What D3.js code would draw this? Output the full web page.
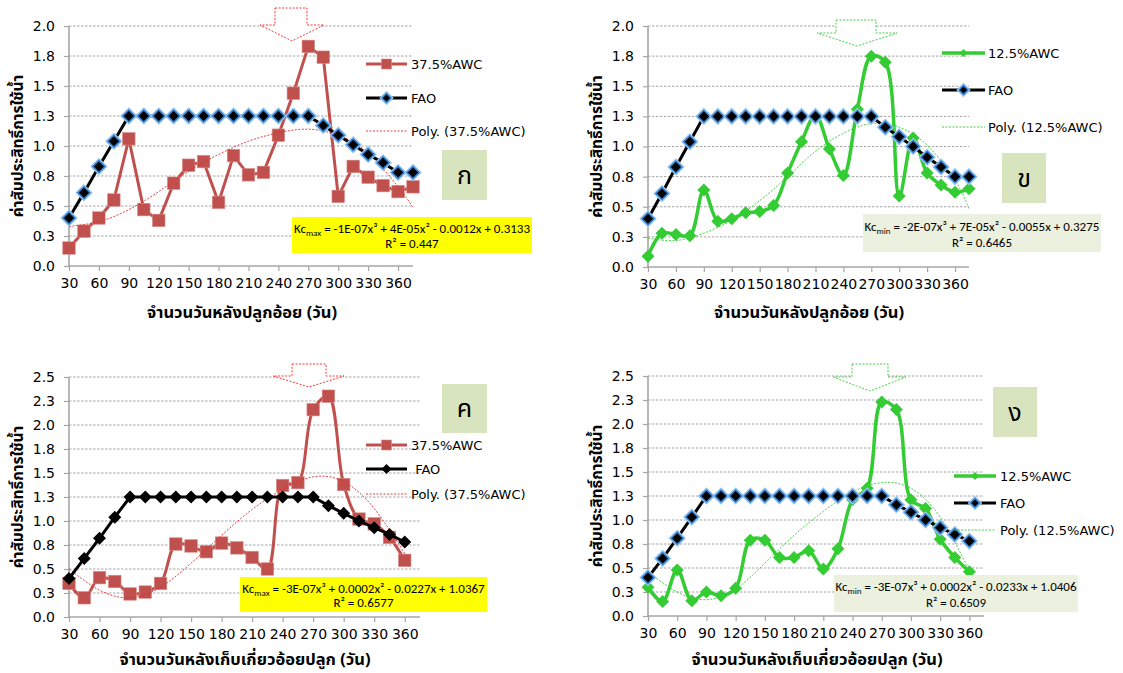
<!DOCTYPE html>
<html>
<head>
<meta charset="utf-8">
<script src="https://cdn.jsdelivr.net/npm/d3@7/dist/d3.min.js"></script>
<style>
body { margin: 0; background: #fff; }
svg { display: block; }
text { font-family: "DejaVu Sans", Tahoma, sans-serif; fill: #000; }
.thai { font-family: Tahoma, "Noto Sans Thai", "Noto Sans", sans-serif; }
.eq { font-family: Carlito, Lato, sans-serif; }
</style>
</head>
<body>
<script>
// days after planting / after harvest (x categories)
var days = [30, 45, 60, 75, 90, 105, 120, 135, 150, 165, 180, 195, 210, 225, 240, 255, 270, 285, 300, 315, 330, 345, 360, 375];
var xTickValues = [30, 60, 90, 120, 150, 180, 210, 240, 270, 300, 330, 360];
var yTicksTop = [0, 0.25, 0.5, 0.75, 1.0, 1.25, 1.5, 1.75, 2.0];
var yTicksBottom = [0, 0.25, 0.5, 0.75, 1.0, 1.25, 1.5, 1.75, 2.0, 2.25, 2.5];

// FAO reference Kc
var faoA = [0.40, 0.61, 0.83, 1.04, 1.25, 1.25, 1.25, 1.25, 1.25, 1.25, 1.25, 1.25, 1.25, 1.25, 1.25, 1.25, 1.25, 1.17, 1.09, 1.01, 0.93, 0.86, 0.78, 0.78];
var faoB = [0.40, 0.61, 0.83, 1.04, 1.25, 1.25, 1.25, 1.25, 1.25, 1.25, 1.25, 1.25, 1.25, 1.25, 1.25, 1.25, 1.25, 1.16, 1.08, 1.00, 0.91, 0.83, 0.75, 0.75];
var faoC = [0.40, 0.61, 0.82, 1.04, 1.25, 1.25, 1.25, 1.25, 1.25, 1.25, 1.25, 1.25, 1.25, 1.25, 1.25, 1.25, 1.25, 1.16, 1.08, 1.00, 0.93, 0.86, 0.78];
var faoD = [0.40, 0.60, 0.81, 1.03, 1.25, 1.25, 1.25, 1.25, 1.25, 1.25, 1.25, 1.25, 1.25, 1.25, 1.25, 1.25, 1.25, 1.16, 1.08, 1.00, 0.92, 0.85, 0.78];

// measured Kc
var awc375Plant = [0.15, 0.29, 0.40, 0.55, 1.06, 0.47, 0.38, 0.69, 0.84, 0.87, 0.53, 0.92, 0.76, 0.78, 1.09, 1.44, 1.83, 1.74, 0.58, 0.83, 0.74, 0.67, 0.62, 0.66];
var awc125Plant = [0.09, 0.28, 0.27, 0.26, 0.64, 0.38, 0.40, 0.45, 0.46, 0.51, 0.78, 1.04, 1.26, 0.98, 0.76, 1.31, 1.75, 1.70, 0.59, 1.07, 0.78, 0.68, 0.62, 0.65];
var awc375Ratoon = [0.35, 0.20, 0.41, 0.37, 0.24, 0.26, 0.35, 0.76, 0.74, 0.68, 0.77, 0.72, 0.62, 0.50, 1.37, 1.40, 2.16, 2.30, 1.38, 1.02, 0.97, 0.83, 0.59];
var awc125Ratoon = [0.30, 0.15, 0.48, 0.16, 0.25, 0.21, 0.29, 0.79, 0.79, 0.61, 0.61, 0.68, 0.49, 0.70, 1.21, 1.33, 2.23, 2.15, 1.21, 1.12, 0.80, 0.61, 0.46];

// polynomial trend
var trendDays = [30, 60, 90, 120, 150, 180, 210, 240, 270, 300, 330, 360, 375];
var trendDaysR = [30, 60, 90, 120, 150, 180, 210, 240, 270, 300, 330, 360];
var trendA = [0.33, 0.37, 0.47, 0.62, 0.79, 0.93, 1.04, 1.11, 1.14, 1.09, 0.94, 0.66, 0.49];
var trendB = [0.24, 0.22, 0.28, 0.39, 0.55, 0.75, 0.96, 1.11, 1.19, 1.16, 1.01, 0.72, 0.48];
var trendC = [0.50, 0.28, 0.20, 0.31, 0.56, 0.85, 1.12, 1.33, 1.46, 1.41, 1.13, 0.66];
var trendD = [0.46, 0.25, 0.17, 0.28, 0.55, 0.84, 1.09, 1.29, 1.39, 1.33, 1.03, 0.47];

var xTitlePlant = "จำนวนวันหลังปลูกอ้อย (วัน)";
var xTitleRatoon = "จำนวนวันหลังเก็บเกี่ยวอ้อยปลูก (วัน)";
var yTitle = "ค่าสัมประสิทธิ์การใช้น้ำ";

var RED = "#c0504d", GREEN = "#33cc33";

var svg = d3.select("body").append("svg")
  .attr("width", 1123)
  .attr("height", 673);

var panels = [
  { x0: 69, x1: 413, yTop: 26, yBot: 266, yMax: 2.0, yTicks: yTicksTop,
    series: awc375Plant, fao: faoA, trendX: trendDays, trend: trendA, color: RED, marker: "square", smooth: false,
    name: "37.5%AWC", poly: "Poly. (37.5%AWC)", faoName: "FAO", glow: true, xTitle: xTitlePlant, xTitleX: 242, xTitleY: 312,
    leg: { x1: 366, x2: 407, tx: 411, ys: [64, 98, 131] },
    box: { x: 442, y: 150, w: 45, h: 50, label: "ก" },
    eq: { x: 292, y: 217, w: 240, h: 36, fill: "#ffff00", pre: "-1E-07x³ + 4E-05x² - 0.0012x + 0.3133", sub: "max", r2: "0.447" },
    arrow: { rl: 275, rr: 307, top: 8, hl: 260, hr: 324, hy: 25, tx: 292, ty: 41 } },
  { x0: 648, x1: 969, yTop: 26, yBot: 267, yMax: 2.0, yTicks: yTicksTop,
    series: awc125Plant, fao: faoB, trendX: trendDays, trend: trendB, color: GREEN, marker: "diamond", smooth: true,
    name: "12.5%AWC", poly: "Poly. (12.5%AWC)", faoName: "FAO", glow: true, xTitle: xTitlePlant, xTitleX: 809, xTitleY: 312,
    leg: { x1: 942, x2: 985, tx: 988, ys: [53, 90, 127] },
    box: { x: 1002, y: 153, w: 44, h: 50, label: "ข" },
    eq: { x: 863, y: 214, w: 238, h: 38, fill: "#ebf1de", pre: "-2E-07x³ + 7E-05x² - 0.0055x + 0.3275", sub: "min", r2: "0.6465" },
    arrow: { rl: 836, rr: 876, top: 20, hl: 817, hr: 897, hy: 33, tx: 857, ty: 46 } },
  { x0: 69, x1: 420, yTop: 377, yBot: 617, yMax: 2.5, yTicks: yTicksBottom,
    series: awc375Ratoon, fao: faoC, trendX: trendDaysR, trend: trendC, color: RED, marker: "square", smooth: true,
    name: "37.5%AWC", poly: "Poly. (37.5%AWC)", faoName: " FAO", glow: false, xTitle: xTitleRatoon, xTitleX: 245, xTitleY: 659,
    leg: { x1: 366, x2: 407, tx: 411, ys: [445, 469, 494] },
    box: { x: 442, y: 384, w: 45, h: 49, label: "ค" },
    eq: { x: 240, y: 577, w: 247, h: 35, fill: "#ffff00", pre: "-3E-07x³ + 0.0002x² - 0.0227x + 1.0367", sub: "max", r2: "0.6577" },
    arrow: { rl: 292, rr: 326, top: 364, hl: 273, hr: 344, hy: 376, tx: 309, ty: 387 } },
  { x0: 648, x1: 984, yTop: 376, yBot: 616, yMax: 2.5, yTicks: yTicksBottom,
    series: awc125Ratoon, fao: faoD, trendX: trendDaysR, trend: trendD, color: GREEN, marker: "diamond", smooth: true,
    name: "12.5%AWC", poly: "Poly. (12.5%AWC)", faoName: "FAO", glow: true, xTitle: xTitleRatoon, xTitleX: 817, xTitleY: 659,
    leg: { x1: 954, x2: 996, tx: 1000, ys: [476, 503, 530] },
    box: { x: 993, y: 387, w: 44, h: 50, label: "ง" },
    eq: { x: 834, y: 575, w: 244, h: 37, fill: "#ebf1de", pre: "-3E-07x³ + 0.0002x² - 0.0233x + 1.0406", sub: "min", r2: "0.6509" },
    arrow: { rl: 852, rr: 888, top: 364, hl: 833, hr: 906, hy: 377, tx: 870, ty: 391 } }
];

function diamond(r) {
  return "M0," + (-r) + "L" + r + ",0L0," + r + "L" + (-r) + ",0Z";
}

function drawMarker(g, type, color, cx, cy, small) {
  if (type === "square") {
    var s = small ? 10 : 12.5;
    g.append("rect").attr("x", cx - s / 2).attr("y", cy - s / 2).attr("width", s).attr("height", s)
      .attr("fill", color).attr("stroke", "#d98a88").attr("stroke-width", 0.6);
  } else if (type === "diamond") {
    g.append("path").attr("transform", "translate(" + cx + "," + cy + ")")
      .attr("d", diamond(small ? 4 : 6.5)).attr("fill", color);
  }
}

function drawFaoMarker(g, cx, cy, glow, small) {
  var r = small ? 4.5 : 6;
  if (glow) {
    g.append("path").attr("transform", "translate(" + cx + "," + cy + ")")
      .attr("d", diamond(r + 1)).attr("fill", "none").attr("stroke", "#9cc6ee").attr("stroke-width", 2.5);
    g.append("path").attr("transform", "translate(" + cx + "," + cy + ")")
      .attr("d", diamond(r)).attr("fill", "#000").attr("stroke", "#2f7fd0").attr("stroke-width", 1.4);
  } else {
    g.append("path").attr("transform", "translate(" + cx + "," + cy + ")")
      .attr("d", diamond(r + 0.5)).attr("fill", "#000");
  }
}

panels.forEach(function(p) {
  var g = svg.append("g");
  var x = d3.scaleLinear().domain([30, 375]).range([p.x0, p.x1]);
  var y = d3.scaleLinear().domain([0, p.yMax]).range([p.yBot, p.yTop]);

  // gridlines
  g.selectAll(".grid").data(p.yTicks.slice(1)).enter().append("line")
    .attr("x1", p.x0).attr("x2", p.x1)
    .attr("y1", function(d) { return y(d); }).attr("y2", function(d) { return y(d); })
    .attr("stroke", "#8f8f8f").attr("stroke-width", 0.8).attr("stroke-dasharray", "2.5,1.5");

  // axes
  var yAxis = d3.axisLeft(y).tickValues(p.yTicks).tickSize(5).tickPadding(9)
    .tickFormat(d3.format(".1f"));
  var ya = g.append("g").attr("transform", "translate(" + p.x0 + ",0)").call(yAxis);
  var xAxis = d3.axisBottom(x).tickValues(xTickValues).tickSize(5).tickPadding(7)
    .tickFormat(d3.format("d"));
  var xa = g.append("g").attr("transform", "translate(0," + p.yBot + ")").call(xAxis);
  [ya, xa].forEach(function(a) {
    a.select(".domain").attr("stroke", "#a6a6a6").attr("stroke-width", 1.6);
    a.selectAll(".tick line").attr("stroke", "#a6a6a6").attr("stroke-width", 1.2);
    a.selectAll("text").style("font-size", "14px").style("font-family", "'DejaVu Sans', Tahoma, sans-serif").attr("fill", "#000");
  });
  // remove d3's outer tick cap on the domain
  ya.select(".domain").attr("d", "M0," + p.yBot + "V" + p.yTop);
  xa.select(".domain").attr("d", "M" + p.x0 + ",0H" + p.x1);

  // axis titles
  g.append("text").attr("class", "thai")
    .attr("transform", "translate(" + (p.x0 - 51) + "," + ((p.yTop + p.yBot) / 2) + ") rotate(-90)")
    .attr("text-anchor", "middle").attr("dy", "0.35em")
    .style("font-size", "15.5px").style("font-weight", "bold").text(yTitle);
  g.append("text").attr("class", "thai")
    .attr("x", p.xTitleX).attr("y", p.xTitleY).attr("dy", "0.35em")
    .attr("text-anchor", "middle")
    .style("font-size", "16.5px").style("font-weight", "bold").text(p.xTitle);

  var pts = p.series.map(function(v, i) { return [days[i], v]; });
  var line = d3.line().x(function(d) { return x(d[0]); }).y(function(d) { return y(d[1]); });

  // measured series
  g.append("path").datum(pts)
    .attr("d", line.curve(p.smooth ? d3.curveCatmullRom.alpha(0.5) : d3.curveLinear))
    .attr("fill", "none").attr("stroke", p.color).attr("stroke-width", p.marker === "square" ? 3 : 3.5)
    .attr("stroke-linejoin", "round");
  pts.forEach(function(d) { drawMarker(g, p.marker, p.color, x(d[0]), y(d[1]), false); });

  // trend line
  var tp = p.trend.map(function(v, i) { return [p.trendX[i], v]; });
  g.append("path").datum(tp)
    .attr("d", d3.line().x(function(d) { return x(d[0]); }).y(function(d) { return y(d[1]); }).curve(d3.curveNatural))
    .attr("fill", "none").attr("stroke", p.color === RED ? "#e8282a" : GREEN)
    .attr("stroke-width", 0.9).attr("stroke-dasharray", "2,1.5");

  // FAO
  var fp = p.fao.map(function(v, i) { return [days[i], v]; });
  g.append("path").datum(fp)
    .attr("d", d3.line().x(function(d) { return x(d[0]); }).y(function(d) { return y(d[1]); }))
    .attr("fill", "none").attr("stroke", "#000").attr("stroke-width", 3);
  fp.forEach(function(d) { drawFaoMarker(g, x(d[0]), y(d[1]), p.glow, false); });

  // legend
  var L = p.leg, mid = (L.x1 + L.x2) / 2;
  g.append("line").attr("x1", L.x1).attr("x2", L.x2).attr("y1", L.ys[0]).attr("y2", L.ys[0])
    .attr("stroke", p.color).attr("stroke-width", p.marker === "square" ? 3 : 3.5);
  drawMarker(g, p.marker, p.color, mid, L.ys[0], true);
  g.append("line").attr("x1", L.x1).attr("x2", L.x2).attr("y1", L.ys[1]).attr("y2", L.ys[1])
    .attr("stroke", "#000").attr("stroke-width", 3);
  drawFaoMarker(g, mid, L.ys[1], p.glow, true);
  g.append("line").attr("x1", L.x1).attr("x2", L.x2).attr("y1", L.ys[2]).attr("y2", L.ys[2])
    .attr("stroke", p.color === RED ? "#e8282a" : GREEN).attr("stroke-width", 0.9).attr("stroke-dasharray", "2,1.5");
  [p.name, p.faoName, p.poly].forEach(function(t, i) {
    g.append("text").attr("x", L.tx).attr("y", L.ys[i]).attr("dy", "0.36em")
      .style("font-size", "13px").style("white-space", "pre").text(t);
  });

  // panel letter box
  g.append("rect").attr("x", p.box.x).attr("y", p.box.y).attr("width", p.box.w).attr("height", p.box.h)
    .attr("fill", "#d7e4bd");
  g.append("text").attr("class", "thai").attr("x", p.box.x + p.box.w / 2).attr("y", p.box.y + p.box.h / 2)
    .attr("dy", "0.35em").attr("text-anchor", "middle").style("font-size", "25px").text(p.box.label);

  // equation box
  var E = p.eq;
  g.append("rect").attr("x", E.x).attr("y", E.y).attr("width", E.w).attr("height", E.h).attr("fill", E.fill);
  var t1 = g.append("text").attr("class", "eq").attr("x", E.x + E.w / 2).attr("y", E.y + E.h * 0.32)
    .attr("dy", "0.35em").attr("text-anchor", "middle").style("font-size", "13px");
  t1.append("tspan").text("Kc");
  t1.append("tspan").attr("dy", "3").style("font-size", "9px").text(E.sub);
  t1.append("tspan").attr("dy", "-3").text(" = " + E.pre);
  g.append("text").attr("class", "eq").attr("x", E.x + E.w / 2).attr("y", E.y + E.h * 0.74)
    .attr("dy", "0.35em").attr("text-anchor", "middle").style("font-size", "13px")
    .text("R² = " + E.r2);

  // arrow marking the peak
  var A = p.arrow;
  var arrowPts = [[A.rl, A.top], [A.rr, A.top], [A.rr, A.hy], [A.hr, A.hy], [A.tx, A.ty], [A.hl, A.hy], [A.rl, A.hy]];
  g.append("path").attr("d", d3.line()(arrowPts) + "Z")
    .attr("fill", "#fff").attr("stroke", p.color === RED ? "#ff2020" : GREEN)
    .attr("stroke-width", 0.9).attr("stroke-dasharray", "2,1.5");
});
</script>
</body>
</html>
